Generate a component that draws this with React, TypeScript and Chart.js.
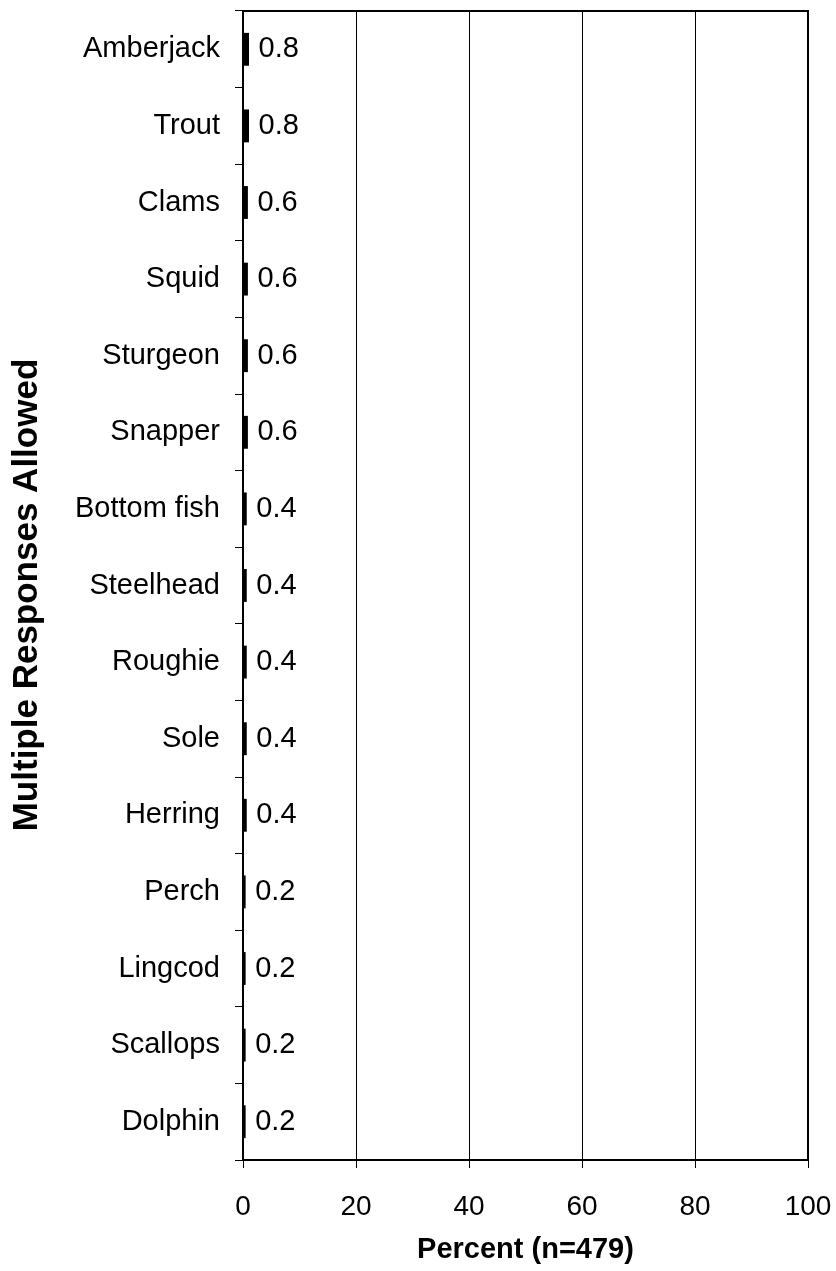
import React, { useEffect, useRef } from "react";
import { Chart, registerables } from "chart.js";

Chart.register(...registerables);

const categories = [
  "Amberjack", "Trout", "Clams", "Squid", "Sturgeon", "Snapper", "Bottom fish",
  "Steelhead", "Roughie", "Sole", "Herring", "Perch", "Lingcod", "Scallops", "Dolphin",
];
const values = [0.8, 0.8, 0.6, 0.6, 0.6, 0.6, 0.4, 0.4, 0.4, 0.4, 0.4, 0.2, 0.2, 0.2, 0.2];
const xTickValues = [0, 20, 40, 60, 80, 100];
const xTitle = "Percent (n=479)";
const yTitle = "Multiple Responses Allowed";

const FONT = "'Liberation Sans', Arial, sans-serif";

function zeroPad(scale: any) {
  scale.paddingLeft = 0;
  scale.paddingRight = 0;
  scale.paddingTop = 0;
  scale.paddingBottom = 0;
}

export default function App() {
  const ref = useRef<HTMLCanvasElement | null>(null);

  useEffect(() => {
    if (!ref.current) return;
    const extras = {
      id: "extras",
      afterDraw(chart: any) {
        const ctx = chart.ctx;
        const a = chart.chartArea;
        ctx.save();
        // top & right frame
        ctx.strokeStyle = "#000";
        ctx.lineWidth = 2;
        ctx.beginPath();
        ctx.moveTo(a.left, a.top);
        ctx.lineTo(a.right, a.top);
        ctx.lineTo(a.right, a.bottom);
        ctx.stroke();
        // value labels
        ctx.fillStyle = "#000";
        ctx.font = `29px ${FONT}`;
        ctx.textAlign = "left";
        ctx.textBaseline = "middle";
        const meta = chart.getDatasetMeta(0);
        meta.data.forEach((bar: any, i: number) => {
          ctx.fillText(String(values[i]), bar.x + 11, bar.y);
        });
        // titles
        ctx.font = `bold 29px ${FONT}`;
        ctx.textAlign = "center";
        ctx.textBaseline = "middle";
        ctx.fillText(xTitle, (a.left + a.right) / 2, 1250);
        ctx.font = `bold 35px ${FONT}`;
        ctx.translate(27, 595);
        ctx.rotate(-Math.PI / 2);
        ctx.fillText(yTitle, 0, 0);
        ctx.restore();
      },
    };

    const chart = new Chart(ref.current, {
      type: "bar",
      data: {
        labels: categories,
        datasets: [
          {
            data: values,
            backgroundColor: "#000",
            borderWidth: 0,
            inflateAmount: 1.5,
            barPercentage: 0.39,
            categoryPercentage: 1,
          },
        ],
      },
      options: {
        indexAxis: "y",
        responsive: false,
        animation: false,
        layout: { padding: { top: 11, right: 28, left: 0, bottom: 0 } },
        plugins: { legend: { display: false }, tooltip: { enabled: false } },
        scales: {
          x: {
            type: "linear",
            min: 0,
            max: 100,
            afterBuildTicks: (scale: any) => {
              scale.ticks = xTickValues.map((v) => ({ value: v }));
            },
            afterFit: (scale: any) => {
              scale.height = 111;
              zeroPad(scale);
            },
            ticks: {
              color: "#000",
              font: { family: FONT, size: 28 },
              padding: 22,
              maxRotation: 0,
            },
            grid: { color: "#000", lineWidth: 1, tickLength: 8, drawOnChartArea: true },
            border: { color: "#000", width: 2 },
          },
          y: {
            type: "category",
            offset: true,
            afterFit: (scale: any) => {
              scale.width = 243;
              zeroPad(scale);
            },
            ticks: {
              color: "#000",
              font: { family: FONT, size: 29 },
              padding: 15,
            },
            grid: { offset: true, drawOnChartArea: false, color: "#000", lineWidth: 1, tickLength: 8 },
            border: { color: "#000", width: 2 },
          },
        },
      },
      plugins: [extras],
    } as any);
    return () => chart.destroy();
  }, []);

  return (
    <div style={{ position: "absolute", left: 0, top: 0, width: 836, height: 1271, background: "#fff" }}>
      <canvas ref={ref} width={836} height={1271} style={{ display: "block" }} />
    </div>
  );
}
